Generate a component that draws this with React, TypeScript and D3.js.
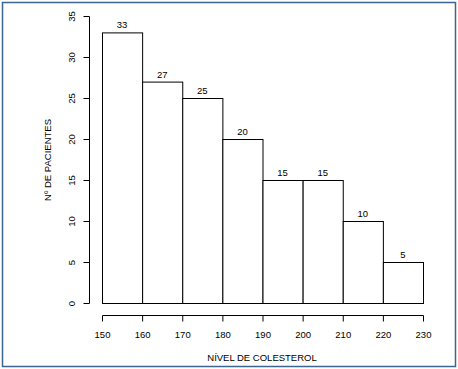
import React, { useEffect, useRef } from 'react';
import * as d3 from 'd3';

const binStarts = [150, 160, 170, 180, 190, 200, 210, 220];
const binWidth = 10;
const counts = [33, 27, 25, 20, 15, 15, 10, 5];
const xTicks = [150, 160, 170, 180, 190, 200, 210, 220, 230];
const yTicks = [0, 5, 10, 15, 20, 25, 30, 35];

const App = () => {
  const ref = useRef<SVGSVGElement>(null);

  useEffect(() => {
    const svg = d3.select(ref.current);
    svg.selectAll('*').remove();
    const font = 'Liberation Sans, Arial, sans-serif';

    const x = d3.scaleLinear().domain([150, 230]).range([102, 423]);
    const y = d3.scaleLinear().domain([0, 35]).range([303, 16]);

    // outer frame
    svg.append('rect')
      .attr('x', 2.5).attr('y', 2.5).attr('width', 453).attr('height', 364)
      .attr('fill', 'white').attr('stroke', '#3d6591').attr('stroke-width', 1.5);

    // bars
    svg.selectAll('.bar')
      .data(binStarts)
      .enter()
      .append('rect')
      .attr('x', (d) => x(d) + 0.5)
      .attr('y', (d, i) => y(counts[i]) + 0.5)
      .attr('width', (d) => x(d + binWidth) - x(d))
      .attr('height', (d, i) => y(0) - y(counts[i]))
      .attr('fill', 'white')
      .attr('stroke', 'black')
      .attr('stroke-width', 1);

    svg.selectAll('.lbl')
      .data(binStarts)
      .enter()
      .append('text')
      .attr('x', (d) => x(d + binWidth / 2))
      .attr('y', (d, i) => y(counts[i]) - 4)
      .attr('text-anchor', 'middle')
      .style('font-family', font)
      .style('font-size', '9.5px')
      .text((d, i) => counts[i]);

    // x axis
    const xa = svg.append('g').attr('transform', 'translate(0.5,315.5)');
    xa.append('line').attr('x1', x(150)).attr('x2', x(230)).attr('stroke', 'black');
    xa.selectAll('.t').data(xTicks).enter().append('line')
      .attr('x1', (d) => x(d)).attr('x2', (d) => x(d))
      .attr('y1', 0).attr('y2', 6).attr('stroke', 'black');
    xa.selectAll('.tl').data(xTicks).enter().append('text')
      .attr('x', (d) => x(d)).attr('y', 22)
      .attr('text-anchor', 'middle')
      .style('font-family', font).style('font-size', '9.5px')
      .text((d) => d);

    // y axis
    const ya = svg.append('g').attr('transform', 'translate(89.5,0.5)');
    ya.append('line').attr('y1', y(0)).attr('y2', y(35)).attr('stroke', 'black');
    ya.selectAll('.t').data(yTicks).enter().append('line')
      .attr('y1', (d) => y(d)).attr('y2', (d) => y(d))
      .attr('x1', 0).attr('x2', -6).attr('stroke', 'black');
    ya.selectAll('.tl').data(yTicks).enter().append('text')
      .attr('transform', (d) => `translate(-15,${y(d)}) rotate(-90)`)
      .attr('text-anchor', 'middle')
      .style('font-family', font).style('font-size', '9.5px')
      .text((d) => d);

    // titles
    svg.append('text')
      .attr('x', 262).attr('y', 361)
      .attr('text-anchor', 'middle')
      .style('font-family', font).style('font-size', '9.5px')
      .text('NÍVEL DE COLESTEROL');
    svg.append('text')
      .attr('transform', 'translate(51,160) rotate(-90)')
      .attr('text-anchor', 'middle')
      .style('font-family', font).style('font-size', '9.5px')
      .text('Nº DE PACIENTES');
  }, []);

  return (
    <svg ref={ref} width="458" height="369" style={{ position: 'absolute', left: 0, top: 0 }}></svg>
  );
};

export default App;
